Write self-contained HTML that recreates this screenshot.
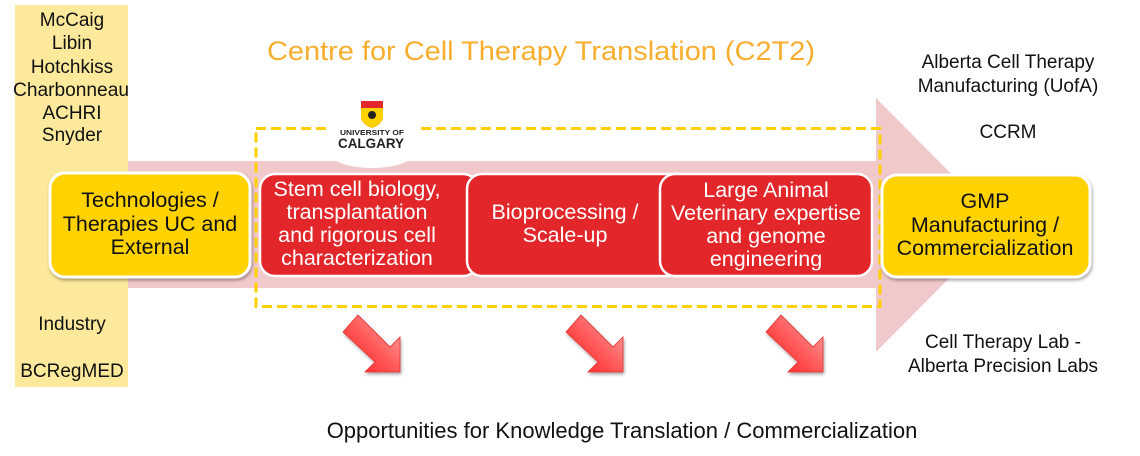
<!DOCTYPE html>
<html><head><meta charset="utf-8"><style>
html,body{margin:0;padding:0;background:#fff;}
svg{display:block;}
text{font-family:"Liberation Sans",Arial,sans-serif;}
</style></head><body>
<svg width="1140" height="456" viewBox="0 0 1140 456" xmlns="http://www.w3.org/2000/svg">
<defs>
<linearGradient id="ag" x1="0" y1="1" x2="1" y2="0">
<stop offset="0" stop-color="#FF1A1A"/>
<stop offset="0.5" stop-color="#FF5A5A"/>
<stop offset="1" stop-color="#FFB0B0"/>
</linearGradient>
<filter id="sh" x="-10%" y="-10%" width="130%" height="130%">
<feGaussianBlur in="SourceAlpha" stdDeviation="1.5"/>
<feOffset dx="1" dy="2" result="o"/>
<feComponentTransfer><feFuncA type="linear" slope="0.35"/></feComponentTransfer>
<feMerge><feMergeNode/><feMergeNode in="SourceGraphic"/></feMerge>
</filter>
</defs>
<rect width="1140" height="456" fill="#fff"/>
<!-- left column -->
<rect x="15" y="5" width="113" height="382" fill="#FDE99B"/>
<!-- pink band and arrowhead -->
<rect x="128" y="161" width="750" height="127" fill="#F2C9CA"/>
<polygon points="876,98 1002,225 876,352" fill="#F2C9CA"/>
<!-- dashed box -->
<rect x="256" y="128.5" width="624" height="178" fill="none" stroke="#FFD000" stroke-width="3" stroke-dasharray="10,5"/>
<!-- logo backdrop -->
<rect x="327" y="92" width="90" height="60" fill="#fff"/>
<ellipse cx="372" cy="150" rx="45" ry="18" fill="#fff"/>
<!-- shield -->
<path d="M361,101 L383,101 L383,116 Q383,124 372,128 Q361,124 361,116 Z" fill="#E3262B"/>
<path d="M361,108 L383,108 L383,116 Q383,124 372,128 Q361,124 361,116 Z" fill="#FFD200"/>
<circle cx="372" cy="115" r="4" fill="#222"/>
<text x="372" y="135" font-size="7.5" font-weight="bold" text-anchor="middle" fill="#222" textLength="64" lengthAdjust="spacingAndGlyphs">UNIVERSITY OF</text>
<text x="371" y="148" font-size="14" font-weight="bold" text-anchor="middle" fill="#222" textLength="66" lengthAdjust="spacingAndGlyphs">CALGARY</text>
<!-- left yellow box -->
<rect x="50" y="173" width="200" height="104" rx="15" fill="#FFD200" stroke="#fff" stroke-width="3" filter="url(#sh)"/>
<!-- red boxes -->
<rect x="260" y="174" width="218" height="102" rx="15" fill="#E3262A" stroke="#fff" stroke-width="2.5"/>
<rect x="467" y="174" width="225" height="102" rx="15" fill="#E3262A" stroke="#fff" stroke-width="2.5"/>
<rect x="660" y="174" width="212" height="102" rx="15" fill="#E3262A" stroke="#fff" stroke-width="2.5"/>
<!-- GMP box -->
<rect x="882" y="175" width="208" height="102" rx="15" fill="#FFD200" stroke="#fff" stroke-width="3" filter="url(#sh)"/>
<!-- arrows -->
<g filter="url(#sh)">
<polygon points="358,315 390,347 400,337 400,372 365,372 375,362 343,332" fill="url(#ag)" stroke="#E83030" stroke-width="0.8"/>
<polygon points="581,315 613,347 623,337 623,372 588,372 598,362 566,332" fill="url(#ag)" stroke="#E83030" stroke-width="0.8"/>
<polygon points="781,315 813,347 823,337 823,372 788,372 798,362 766,332" fill="url(#ag)" stroke="#E83030" stroke-width="0.8"/>
</g>
<!-- title -->
<text x="541" y="60" font-size="27" fill="#F7AE2E" text-anchor="middle" textLength="548" lengthAdjust="spacingAndGlyphs">Centre for Cell Therapy Translation (C2T2)</text>
<!-- left column text -->
<g font-size="19" fill="#111" text-anchor="middle">
<text x="72" y="26">McCaig</text>
<text x="72" y="49">Libin</text>
<text x="72" y="73">Hotchkiss</text>
<text x="71" y="96" textLength="116" lengthAdjust="spacingAndGlyphs">Charbonneau</text>
<text x="72" y="119">ACHRI</text>
<text x="72" y="141">Snyder</text>
<text x="72" y="330">Industry</text>
<text x="72" y="377">BCRegMED</text>
</g>
<!-- left box text -->
<g font-size="21.5" fill="#111" text-anchor="middle">
<text x="150" y="207">Technologies /</text>
<text x="150" y="231">Therapies UC and</text>
<text x="150" y="254">External</text>
</g>
<!-- red box text -->
<g font-size="21.5" fill="#fff" text-anchor="middle">
<text x="357" y="196">Stem cell biology,</text>
<text x="357" y="219">transplantation</text>
<text x="357" y="242">and rigorous cell</text>
<text x="357" y="265">characterization</text>
<text x="565" y="219">Bioprocessing /</text>
<text x="565" y="242">Scale-up</text>
<text x="766" y="197">Large Animal</text>
<text x="766" y="220">Veterinary expertise</text>
<text x="766" y="243">and genome</text>
<text x="766" y="266">engineering</text>
</g>
<!-- GMP text -->
<g font-size="21.5" fill="#111" text-anchor="middle">
<text x="985" y="208">GMP</text>
<text x="985" y="232">Manufacturing /</text>
<text x="985" y="255">Commercialization</text>
</g>
<!-- right text -->
<g font-size="19" fill="#111" text-anchor="middle">
<text x="1008" y="68">Alberta Cell Therapy</text>
<text x="1008" y="92">Manufacturing (UofA)</text>
<text x="1008" y="138">CCRM</text>
<text x="1003" y="348">Cell Therapy Lab -</text>
<text x="1003" y="372">Alberta Precision Labs</text>
</g>
<!-- bottom -->
<text x="622" y="438" font-size="22" fill="#111" text-anchor="middle">Opportunities for Knowledge Translation / Commercialization</text>
</svg>
</body></html>
